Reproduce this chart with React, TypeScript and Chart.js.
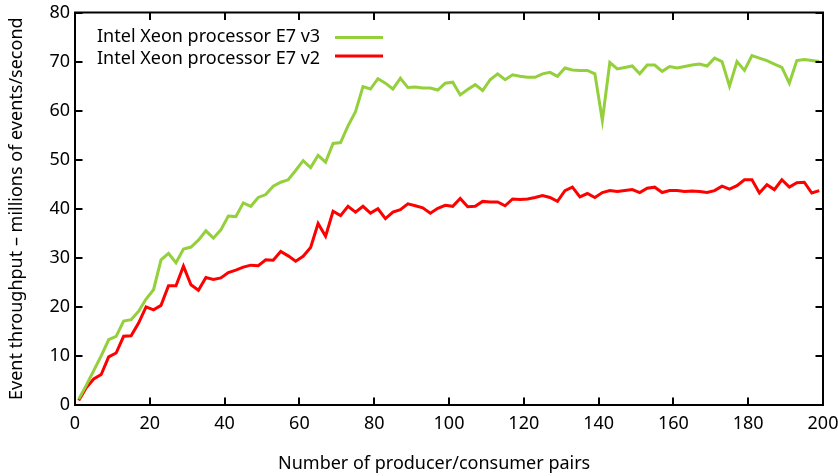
import React, { useEffect, useRef } from "react";
import { Chart, registerables } from "chart.js";

Chart.register(...registerables);

const pairs = [
  1, 3, 5, 7, 9, 11, 13, 15, 17, 19, 21, 23, 25, 27, 29, 31, 33, 35, 37, 39,
  41, 43, 45, 47, 49, 51, 53, 55, 57, 59, 61, 63, 65, 67, 69, 71, 73, 75, 77, 79,
  81, 83, 85, 87, 89, 91, 93, 95, 97, 99, 101, 103, 105, 107, 109, 111, 113, 115, 117, 119,
  121, 123, 125, 127, 129, 131, 133, 135, 137, 139, 141, 143, 145, 147, 149, 151, 153, 155, 157, 159,
  161, 163, 165, 167, 169, 171, 173, 175, 177, 179, 181, 183, 185, 187, 189, 191, 193, 195, 197, 199,
];

const xeonV3 = [
  1.2, 4.0, 7.0, 10.0, 13.3, 14.0, 17.1, 17.4, 19.1, 21.6,
  23.5, 29.6, 30.9, 29.0, 31.8, 32.2, 33.6, 35.5, 34.0, 35.7,
  38.5, 38.4, 41.2, 40.5, 42.3, 42.9, 44.6, 45.4, 45.9, 47.8,
  49.8, 48.4, 50.9, 49.5, 53.3, 53.5, 56.9, 59.8, 64.9, 64.4,
  66.5, 65.6, 64.4, 66.6, 64.7, 64.8, 64.6, 64.6, 64.2, 65.6,
  65.8, 63.2, 64.3, 65.3, 64.1, 66.3, 67.5, 66.3, 67.3, 67.0,
  66.8, 66.8, 67.5, 67.8, 67.0, 68.7, 68.3, 68.2, 68.2, 67.5,
  58.0, 69.8, 68.5, 68.8, 69.1, 67.5, 69.3, 69.3, 68.0, 69.0,
  68.7, 69.0, 69.3, 69.5, 69.1, 70.7, 70.0, 65.0, 70.0, 68.2,
  71.2, 70.7, 70.2, 69.5, 68.8, 65.6, 70.2, 70.4, 70.2, 70.0,
];

const xeonV2 = [
  0.9, 3.5, 5.3, 6.2, 9.8, 10.6, 14.0, 14.1, 16.7, 20.0,
  19.4, 20.3, 24.3, 24.3, 28.3, 24.5, 23.4, 26.0, 25.6, 25.9,
  27.0, 27.5, 28.1, 28.5, 28.4, 29.6, 29.5, 31.3, 30.4, 29.3,
  30.3, 32.1, 37.0, 34.4, 39.5, 38.6, 40.5, 39.3, 40.5, 39.1,
  40.0, 38.0, 39.3, 39.8, 41.0, 40.6, 40.2, 39.1, 40.1, 40.7,
  40.5, 42.1, 40.4, 40.5, 41.5, 41.4, 41.4, 40.6, 42.0, 41.9,
  42.0, 42.3, 42.7, 42.3, 41.5, 43.7, 44.4, 42.4, 43.1, 42.3,
  43.3, 43.7, 43.5, 43.7, 43.9, 43.3, 44.2, 44.4, 43.3, 43.7,
  43.7, 43.5, 43.6, 43.5, 43.3, 43.7, 44.6, 44.0, 44.7, 45.9,
  45.9, 43.2, 44.9, 43.9, 45.9, 44.4, 45.3, 45.4, 43.2, 43.7,
];

const seriesNames = ["Intel Xeon processor E7 v3", "Intel Xeon processor E7 v2"];
const seriesColors = ["#94cf3c", "#ff0000"];
const xTicks = [0, 20, 40, 60, 80, 100, 120, 140, 160, 180, 200];
const yTicks = [0, 10, 20, 30, 40, 50, 60, 70, 80];
const xTitle = "Number of producer/consumer pairs";
const yTitle = "Event throughput – millions of events/second";

const FONT = "'Noto Sans', 'Open Sans', sans-serif";
const FONT_SIZE = 18;

const framePlugin = {
  id: "gnuplotFrame",
  afterDatasetsDraw(chart: any) {
    const { ctx, chartArea } = chart;
    const xs = chart.scales.x;
    const ys = chart.scales.y;
    const { left, right, top, bottom } = chartArea;
    const tl = 7.5;
    ctx.save();
    ctx.strokeStyle = "#000";
    ctx.lineWidth = 2;
    ctx.beginPath();
    for (const v of xTicks) {
      const px = Math.round(xs.getPixelForValue(v));
      ctx.moveTo(px, bottom);
      ctx.lineTo(px, bottom - tl);
      ctx.moveTo(px, top);
      ctx.lineTo(px, top + tl);
    }
    for (const v of yTicks) {
      const py = Math.round(ys.getPixelForValue(v));
      ctx.moveTo(left, py);
      ctx.lineTo(left + tl, py);
      ctx.moveTo(right, py);
      ctx.lineTo(right - tl, py);
    }
    ctx.stroke();
    ctx.lineWidth = 2;
    ctx.strokeRect(left, top, right - left, bottom - top);

    ctx.font = `${FONT_SIZE}px ${FONT}`;
    ctx.fillStyle = "#000";

    // axis titles (gnuplot placement)
    ctx.textAlign = "left";
    ctx.textBaseline = "alphabetic";
    ctx.fillText(xTitle, 278, 469);
    ctx.save();
    ctx.translate(22, 400);
    ctx.rotate(-Math.PI / 2);
    ctx.fillText(yTitle, 0, 0);
    ctx.restore();

    // legend (gnuplot key, top-left inside)
    ctx.textBaseline = "middle";
    ctx.textAlign = "left";
    const rows = [
      { ty: 36.5, ly: 37.5 },
      { ty: 58.5, ly: 56 },
    ];
    chart.data.datasets.forEach((ds: any, i: number) => {
      const r = rows[i];
      ctx.fillStyle = "#000";
      ctx.fillText(ds.label, left + 22, r.ty);
      ctx.strokeStyle = ds.borderColor;
      ctx.lineWidth = 3;
      ctx.beginPath();
      ctx.moveTo(left + 260, r.ly);
      ctx.lineTo(left + 308, r.ly);
      ctx.stroke();
    });
    ctx.restore();
  },
};

export default function App() {
  const ref = useRef<HTMLCanvasElement | null>(null);
  useEffect(() => {
    document.body.style.margin = "0";
    const canvas = ref.current!;
    const datasets = [xeonV3, xeonV2].map((vals, i) => ({
      label: seriesNames[i],
      data: vals.map((y, j) => ({ x: pairs[j], y })),
      borderColor: seriesColors[i],
      backgroundColor: seriesColors[i],
      borderWidth: 3,
      pointRadius: 0,
      tension: 0,
      fill: false,
    }));
    const chart = new Chart(canvas, {
      type: "line",
      data: { datasets },
      options: {
        animation: false,
        responsive: false,
        maintainAspectRatio: false,
        layout: { padding: { left: 0, top: 12.5, right: 15, bottom: 0 } },
        plugins: {
          legend: { display: false },
          tooltip: { enabled: false },
        },
        scales: {
          x: {
            type: "linear",
            min: 0,
            max: 200,
            afterFit: (s: any) => {
              s.height = 71;
              s.paddingLeft = 0;
              s.paddingRight = 0;
            },
            afterBuildTicks: (s: any) => {
              s.ticks = xTicks.map((v) => ({ value: v }));
            },
            grid: { display: false, drawTicks: false },
            border: { display: false },
            ticks: {
              padding: 8,
              color: "#000",
              maxRotation: 0,
              autoSkip: false,
              font: { family: FONT, size: FONT_SIZE },
            },
          },
          y: {
            type: "linear",
            min: 0,
            max: 80,
            afterFit: (s: any) => {
              s.width = 75;
              s.paddingTop = 0;
              s.paddingBottom = 0;
            },
            afterBuildTicks: (s: any) => {
              s.ticks = yTicks.map((v) => ({ value: v }));
            },
            grid: { display: false, drawTicks: false },
            border: { display: false },
            ticks: {
              padding: 5,
              color: "#000",
              autoSkip: false,
              font: { family: FONT, size: FONT_SIZE },
            },
          },
        },
      },
      plugins: [framePlugin],
    });
    return () => chart.destroy();
  }, []);
  return (
    <div style={{ width: 838, height: 476 }}>
      <canvas ref={ref} width={838} height={476} style={{ display: "block" }} />
    </div>
  );
}
